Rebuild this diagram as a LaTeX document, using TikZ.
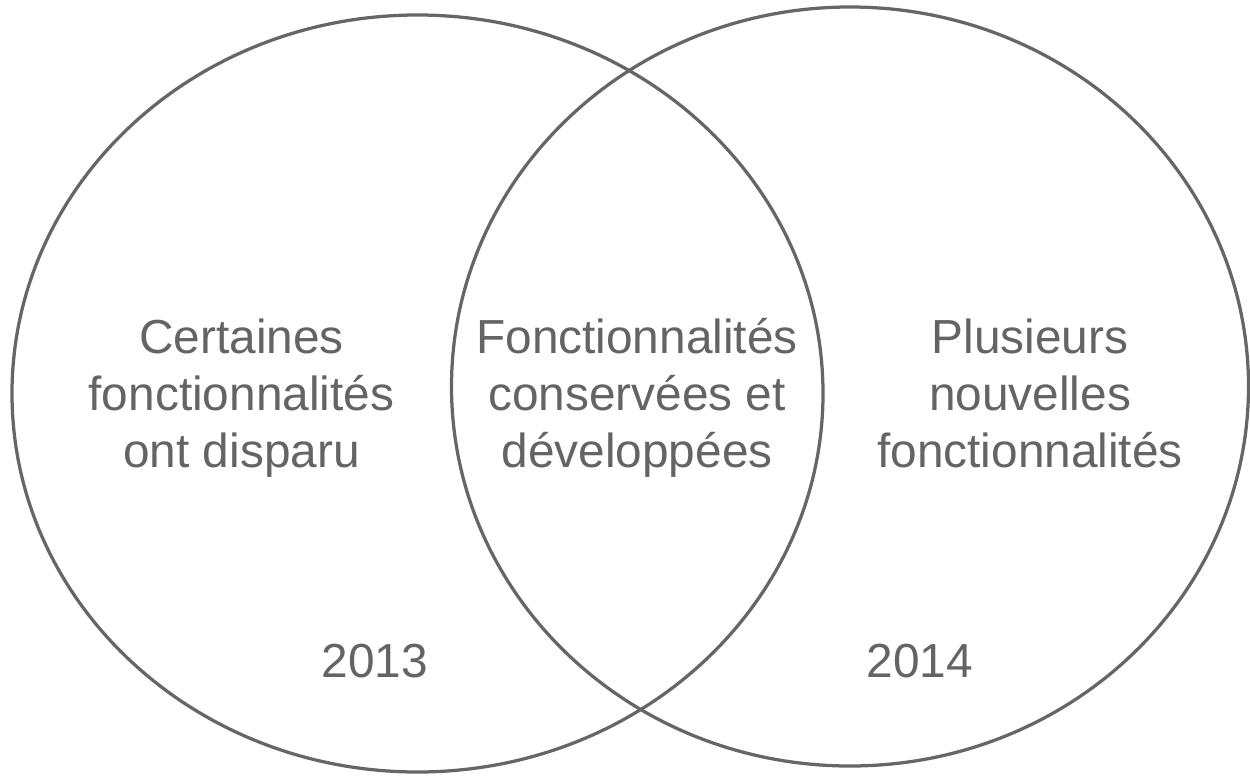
\documentclass[tikz,border=0pt]{standalone}
\usepackage{fontspec}
\setmainfont{Liberation Sans}
\definecolor{linegray}{HTML}{666666}
\definecolor{textgray}{HTML}{646464}
\tikzset{
    setline/.style={draw=linegray, line width=0.065cm},
    setlabel/.style={text=textgray, font=\fontsize{27.2}{32.3}\selectfont, align=center, anchor=base, inner sep=0pt}
}

\begin{document}
\begin{tikzpicture}
    \useasboundingbox (0,0) rectangle (25,-15.5);
    \begin{scope} % 2013
        \draw[setline] (8.35,-7.87) coordinate(OldSet) ellipse (8.11 and 7.57);
        \node[setlabel] (oldonly) at (4.83,-9.34) {Certaines\\fonctionnalités\\ont disparu};
        \node[setlabel] (oldyear) at (7.5,-13.54) {2013};
    \end{scope}
    \begin{scope} % 2014
        \draw[setline] (17.0,-7.73) coordinate(NewSet) ellipse (7.97 and 7.59);
        \node[setlabel] (newonly) at (20.6,-9.34) {Plusieurs\\nouvelles\\fonctionnalités};
        \node[setlabel] (newyear) at (18.4,-13.54) {2014};
    \end{scope}
    \node[setlabel] (common) at (12.74,-9.34) {Fonctionnalités\\conservées et\\développées};
\end{tikzpicture}
\end{document}
